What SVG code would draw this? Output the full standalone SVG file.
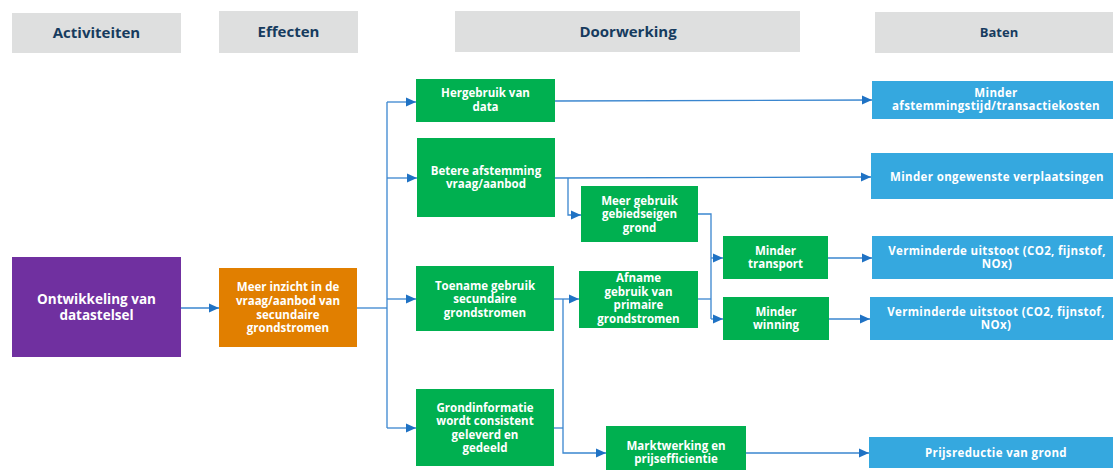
<svg xmlns="http://www.w3.org/2000/svg" width="1113" height="471" viewBox="0 0 1113 471">
<defs>
<marker id="arr" markerUnits="userSpaceOnUse" markerWidth="10" markerHeight="10" refX="10" refY="5" orient="auto">
<path d="M0,0.5 L10,5 L0,9.5 Z" fill="#1F72C4"/>
</marker>
<style>
.hdr{fill:#DEDFDF}
.ht{font-family:"Open Sans","Liberation Sans",sans-serif;font-weight:700;font-size:15px;fill:#163B5E;text-anchor:middle}
.green{fill:#00B050}
.blue{fill:#35A8DF}
.t{font-family:"Open Sans","Liberation Sans",sans-serif;font-weight:700;font-size:11.5px;fill:#FFFFFF;text-anchor:middle}
.tp{font-family:"Open Sans","Liberation Sans",sans-serif;font-weight:700;font-size:13.5px;fill:#FFFFFF;text-anchor:middle}
.tb{font-family:"Open Sans","Liberation Sans",sans-serif;font-weight:700;font-size:11.5px;letter-spacing:0.35px;fill:#FFFFFF;text-anchor:middle}
.c{fill:none;stroke:#3A86CF;stroke-width:1.3}
.ca{fill:none;stroke:#3A86CF;stroke-width:1.3;marker-end:url(#arr)}
</style>
</defs>
<rect width="1113" height="471" fill="#FFFFFF"/>

<g id="headers">
<g id="h-activiteiten"><rect class="hdr" x="12" y="13" width="169" height="40"/><text class="ht" x="96.5" y="38">Activiteiten</text></g>
<g id="h-effecten"><rect class="hdr" x="219" y="11" width="139" height="42"/><text class="ht" x="288.5" y="37">Effecten</text></g>
<g id="h-doorwerking"><rect class="hdr" x="455" y="11" width="345" height="41"/><text class="ht" x="628" y="37">Doorwerking</text></g>
<g id="h-baten"><rect class="hdr" x="875" y="12" width="238" height="41"/><text class="ht" x="999" y="37" style="font-size:13px">Baten</text></g>
</g>

<g id="connectors">
<path class="ca" d="M181,308 L219,308"/>
<path class="c" d="M357,308 L387,308"/>
<path class="c" d="M387,102 L387,428"/>
<path class="ca" d="M387,102 L416,102"/>
<path class="ca" d="M387,178 L417,178"/>
<path class="ca" d="M387,299 L416,299"/>
<path class="ca" d="M387,428 L416,428"/>
<path class="ca" d="M555,101 L872,100"/>
<path class="ca" d="M555,178 L871,177"/>
<path class="ca" d="M568,178 L568,215 L581,215"/>
<path class="c" d="M698,214 L711,214 L711,319"/>
<path class="ca" d="M711,258 L723,258"/>
<path class="ca" d="M711,319 L723,319"/>
<path class="ca" d="M554,299 L579,299"/>
<path class="c" d="M698,299 L711,299"/>
<path class="c" d="M554,428 L563,428"/>
<path class="ca" d="M563,299 L563,453 L606,453"/>
<path class="ca" d="M828,258 L872,258"/>
<path class="ca" d="M829,319 L870,319"/>
<path class="ca" d="M746,453 L869,453"/>
</g>

<g id="n-ontwikkeling"><rect x="12" y="257" width="169" height="100" fill="#7030A0"/>
<text class="tp" x="96.5" y="304">Ontwikkeling van</text><text class="tp" x="96.5" y="320">datastelsel</text></g>

<g id="n-inzicht"><rect x="219" y="268" width="138" height="79" fill="#E17F00"/>
<text class="t" x="288" y="291">Meer inzicht in de</text><text class="t" x="288" y="305">vraag/aanbod van</text><text class="t" x="288" y="319">secundaire</text><text class="t" x="288" y="332">grondstromen</text></g>

<g id="n-hergebruik"><rect class="green" x="416" y="79" width="139" height="43"/>
<text class="t" x="485.5" y="97">Hergebruik van</text><text class="t" x="485.5" y="111">data</text></g>

<g id="n-betere"><rect class="green" x="417" y="138" width="138" height="79"/>
<text class="t" x="486" y="175">Betere afstemming</text><text class="t" x="486" y="188">vraag/aanbod</text></g>

<g id="n-toename"><rect class="green" x="416" y="266" width="138" height="65"/>
<text class="t" x="485" y="290">Toename gebruik</text><text class="t" x="485" y="303">secundaire</text><text class="t" x="485" y="317">grondstromen</text></g>

<g id="n-grondinfo"><rect class="green" x="416" y="389" width="138" height="77"/>
<text class="t" x="485" y="412">Grondinformatie</text><text class="t" x="485" y="425">wordt consistent</text><text class="t" x="485" y="439">geleverd en</text><text class="t" x="485" y="452">gedeeld</text></g>

<g id="n-meergebruik"><rect class="green" x="581" y="186" width="117" height="56"/>
<text class="t" x="639.5" y="205">Meer gebruik</text><text class="t" x="639.5" y="218">gebiedseigen</text><text class="t" x="639.5" y="232">grond</text></g>

<g id="n-afname"><rect class="green" x="579" y="271" width="119" height="57"/>
<text class="t" x="638.5" y="282">Afname</text><text class="t" x="638.5" y="296">gebruik van</text><text class="t" x="638.5" y="309">primaire</text><text class="t" x="638.5" y="323">grondstromen</text></g>

<g id="n-transport"><rect class="green" x="723" y="236" width="105" height="43"/>
<text class="t" x="775.5" y="255">Minder</text><text class="t" x="775.5" y="268">transport</text></g>

<g id="n-winning"><rect class="green" x="723" y="297" width="106" height="43"/>
<text class="t" x="776" y="316">Minder</text><text class="t" x="776" y="329">winning</text></g>

<g id="n-markt"><rect class="green" x="606" y="426" width="140" height="44"/>
<text class="t" x="676" y="450">Marktwerking en</text><text class="t" x="676" y="463">prijsefficientie</text></g>

<g id="b-afstemming"><rect class="blue" x="872" y="81" width="241" height="38"/>
<text class="tb" x="996" y="97">Minder</text><text class="tb" x="996" y="110">afstemmingstijd/transactiekosten</text></g>

<g id="b-verplaatsingen"><rect class="blue" x="871" y="153" width="242" height="46"/>
<text class="tb" x="997" y="181">Minder ongewenste verplaatsingen</text></g>

<g id="b-uitstoot1"><rect class="blue" x="872" y="236" width="241" height="43"/>
<text class="tb" x="997" y="255">Verminderde uitstoot (CO2, fijnstof,</text><text class="tb" x="997" y="268">NOx)</text></g>

<g id="b-uitstoot2"><rect class="blue" x="870" y="297" width="243" height="43"/>
<text class="tb" x="996" y="316">Verminderde uitstoot (CO2, fijnstof,</text><text class="tb" x="996" y="329">NOx)</text></g>

<g id="b-prijs"><rect class="blue" x="869" y="437" width="244" height="31"/>
<text class="tb" x="996" y="457">Prijsreductie van grond</text></g>
</svg>
